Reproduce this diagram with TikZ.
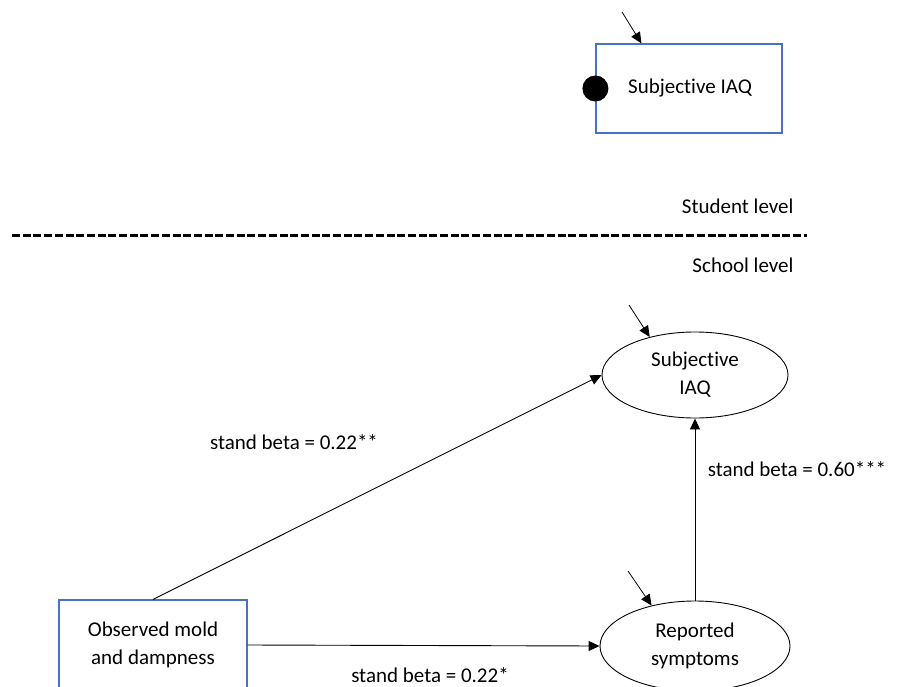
\documentclass[tikz,border=0pt]{standalone}
\usepackage{fontspec}
\setmainfont{Carlito}[Ligatures=NoCommon]
\usetikzlibrary{arrows.meta,shapes.geometric}
\definecolor{boxblue}{RGB}{68,114,196}
\tikzset{
  varbox/.style={draw=boxblue, line width=1.2pt, minimum width=188pt, minimum height=90pt, inner sep=0pt, align=center},
  latent/.style={draw, ellipse, line width=0.9pt, minimum width=188pt, minimum height=88pt, inner sep=0pt, align=center},
  path/.style={->, line width=0.9pt},
  resid/.style={->, line width=0.8pt}
}

\begin{document}
\begin{tikzpicture}[>={Triangle[length=11pt,width=10pt]}, x=1pt, y=-1pt,
    font=\fontsize{21}{28}\selectfont]
  \useasboundingbox (0,0) rectangle (909,687);
  % Student level
  \node[varbox, minimum width=186pt, minimum height=89pt] (subjS) at (689,88.5) {\hspace*{2pt}Subjective IAQ};
  \fill (subjS.west) circle (13pt);
  \coordinate (eS) at (622,12);
  \draw[resid] (eS) -- ([xshift=46pt]subjS.north west);
  % Levels
  \node[anchor=east] (stud) at (797,206) {Student level};
  \draw[line width=3pt, dash pattern=on 8pt off 2.7pt] (12,235) -- (807,235);
  \node[anchor=east] (schl) at (797,265) {School level};
  % School level
  \node[latent, minimum width=186pt, minimum height=86pt] (subjE) at (695,375) {Subjective\\IAQ};
  \node[latent, minimum width=190pt, minimum height=90pt] (repE) at (695,646) {Reported\\symptoms};
  \node[varbox] (obsB) at (153,645) {Observed mold\\and dampness};
  \coordinate (eE) at (629,305);
  \coordinate (eR) at (628,571);
  \draw[resid] (eE) -- (subjE.140);
  \draw[resid] (eR) -- (repE.137);
  % Paths
  \draw[path] (obsB.north) -- (subjE.west);
  \draw[path] (obsB.east) -- (repE.west);
  \draw[path] (repE.north) -- (subjE.south);
  \node (b1) at (294,442) {stand beta = 0.22**};
  \node (b2) at (797,469) {stand beta = 0.60***};
  \node (b3) at (430,675) {stand beta = 0.22*};
\end{tikzpicture}
\end{document}
